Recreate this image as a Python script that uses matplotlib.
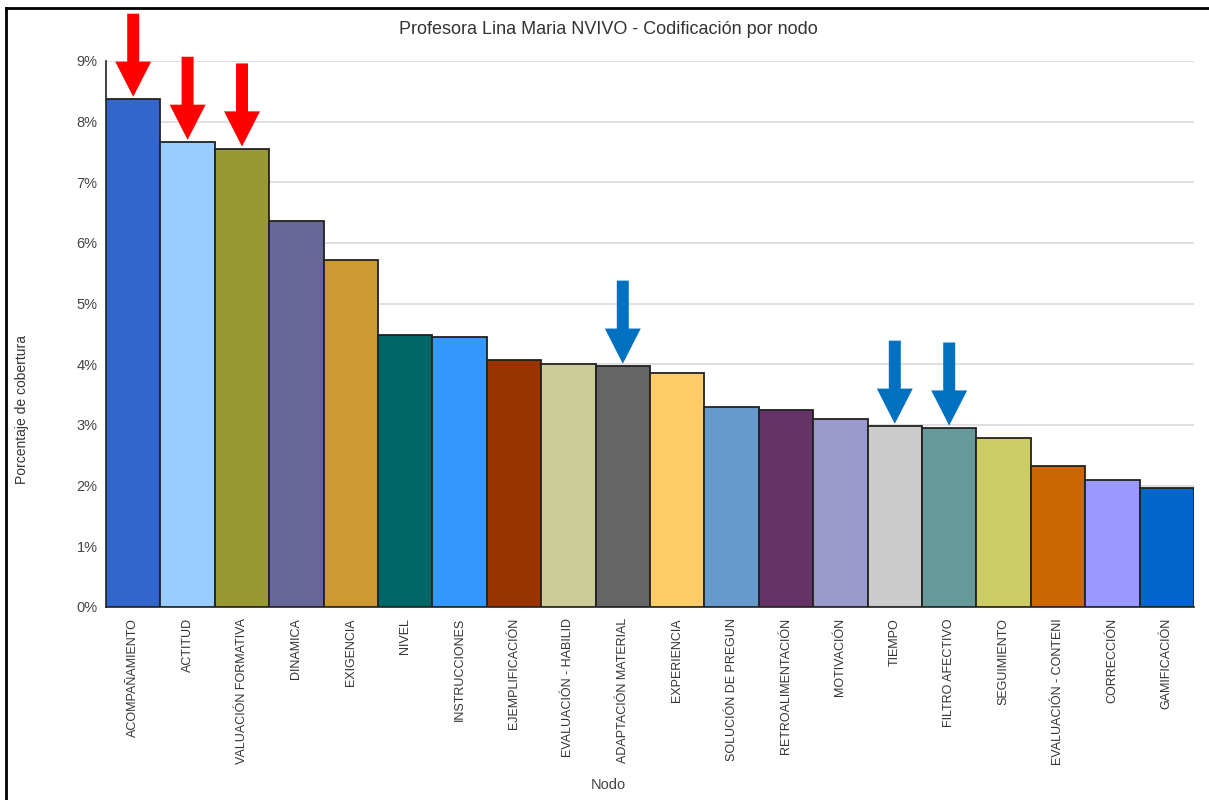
import matplotlib.pyplot as plt
from matplotlib.patches import FancyArrow
from matplotlib.lines import Line2D
from matplotlib.ticker import FuncFormatter

plt.rcParams['font.family'] = ['Liberation Sans', 'DejaVu Sans']

nodos = [
    "ACOMPAÑAMIENTO", "ACTITUD", "VALUACIÓN FORMATIVA", "DINAMICA", "EXIGENCIA",
    "NIVEL", "INSTRUCCIONES", "EJEMPLIFICACIÓN", "EVALUACIÓN - HABILID",
    "ADAPTACIÓN MATERIAL", "EXPERIENCIA", "SOLUCIÓN DE PREGUN", "RETROALIMENTACIÓN",
    "MOTIVACIÓN", "TIEMPO", "FILTRO AFECTIVO", "SEGUIMIENTO",
    "EVALUACIÓN - CONTENI", "CORRECCIÓN", "GAMIFICACIÓN",
]
cobertura = [8.37, 7.66, 7.55, 6.36, 5.72, 4.48, 4.45, 4.07, 4.01, 3.97,
             3.86, 3.30, 3.25, 3.10, 2.98, 2.95, 2.79, 2.32, 2.09, 1.96]
colores = ["#3366CC", "#99CCFF", "#999933", "#666699", "#CC9933", "#006666",
           "#3399FF", "#993300", "#CCCC99", "#666666", "#FFCC66", "#6699CC",
           "#663366", "#9999CC", "#CCCCCC", "#669999", "#CCCC66", "#CC6600",
           "#9999FF", "#0066CC"]

# nodos destacados con flecha
destacados_rojo = ["ACOMPAÑAMIENTO", "ACTITUD", "VALUACIÓN FORMATIVA"]
destacados_azul = ["ADAPTACIÓN MATERIAL", "TIEMPO", "FILTRO AFECTIVO"]

W, H = 1209, 800
fig = plt.figure(figsize=(W / 100, H / 100), dpi=100)
ax = fig.add_axes([106 / W, (H - 607) / H, (1194 - 106) / W, (607 - 61) / H])

x = list(range(len(nodos)))
ax.bar(x, cobertura, width=1.0, color=colores, edgecolor="#222222", linewidth=1.3, zorder=3)

ax.set_xlim(-0.5, len(nodos) - 0.5)
ax.set_ylim(0, 9)
ax.set_yticks(range(0, 10))
ax.yaxis.set_major_formatter(FuncFormatter(lambda v, p: f"{int(v)}%"))
ax.grid(axis="y", color="#dddddd", linewidth=1.3, zorder=0)
ax.set_xticks(x)
ax.set_xticklabels(nodos, rotation=90, fontsize=9, color="#333333", va="top")
ax.tick_params(axis="y", labelsize=10.5, labelcolor="#444444", length=0, pad=6)
ax.tick_params(axis="x", length=0, pad=8)

for side in ["top", "right"]:
    ax.spines[side].set_visible(False)
ax.spines["left"].set_color("#222222")
ax.spines["bottom"].set_color("#222222")
ax.spines["left"].set_linewidth(1.2)
ax.spines["bottom"].set_linewidth(1.2)

# flechas
largo, cabeza = 1.37, 0.58
for lista, color in [(destacados_rojo, "#FF0000"), (destacados_azul, "#0070C0")]:
    for nombre in lista:
        i = nodos.index(nombre)
        punta = cobertura[i] + 0.04
        ax.add_patch(FancyArrow(i, punta + largo, 0, -largo, width=0.22,
                                head_width=0.66, head_length=cabeza,
                                length_includes_head=True, color=color,
                                linewidth=0, zorder=5, clip_on=False))

fig.text(608 / W, 1 - 30 / H, "Profesora Lina Maria NVIVO - Codificación por nodo",
         ha="center", va="center", fontsize=13, color="#333333")
fig.text(22 / W, 1 - 410 / H, "Porcentaje de cobertura", rotation=90,
         ha="center", va="center", fontsize=10, color="#333333")
fig.text(608 / W, 1 - 785 / H, "Nodo", ha="center", va="center",
         fontsize=10.5, color="#444444")

# marco exterior
fig.add_artist(Line2D([6 / W, 6 / W], [0, 1 - 8 / H], color="black", linewidth=2))
fig.add_artist(Line2D([6 / W, 1], [1 - 8 / H, 1 - 8 / H], color="black", linewidth=2))

fig.savefig("out.png", dpi=100)
